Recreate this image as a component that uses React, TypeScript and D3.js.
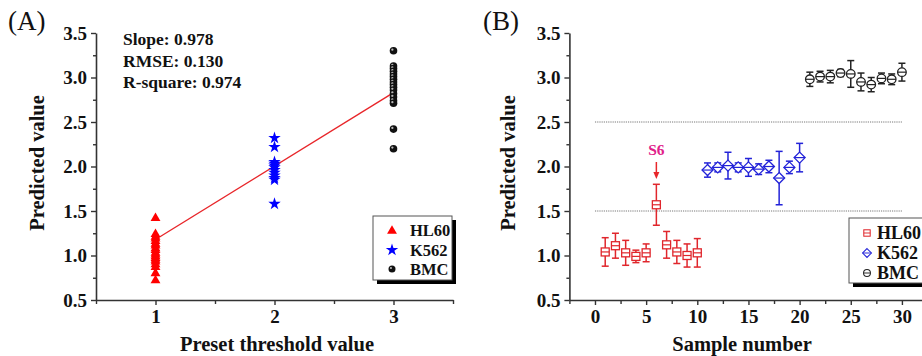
import React, { useEffect, useRef } from 'react';
import * as d3 from 'd3';

// Panel A: predicted value for each preset threshold group
const hl60Scatter = [1.42, 1.24, 1.21, 1.19, 1.16, 1.13, 1.11, 1.08, 1.06, 1.03, 1.01, 0.99, 0.97, 0.95, 0.93, 0.90, 0.87, 0.80, 0.72];
const k562Scatter = [2.32, 2.22, 2.05, 2.03, 2.01, 1.99, 1.96, 1.93, 1.90, 1.87, 1.85, 1.58];
const bmcScatter = [3.30, 3.13, 3.10, 3.07, 3.04, 3.01, 2.98, 2.95, 2.92, 2.89, 2.86, 2.82, 2.78, 2.74, 2.71, 2.42, 2.20];
const fitX = [1, 3];
const fitY = [1.18, 2.83];
const fitStats = ['Slope: 0.978', 'RMSE: 0.130', 'R-square: 0.974'];

// Panel B: per-sample mean and error
const hl60Mean = [1.04, 1.11, 1.03, 0.99, 1.03, 1.57, 1.12, 1.04, 1.00, 1.03];
const hl60Err = [0.16, 0.14, 0.14, 0.07, 0.10, 0.23, 0.15, 0.13, 0.13, 0.16];
const k562Mean = [1.96, 1.99, 2.01, 1.99, 1.99, 1.97, 2.00, 1.87, 1.99, 2.10];
const k562Err = [0.08, 0.05, 0.15, 0.05, 0.10, 0.06, 0.07, 0.30, 0.07, 0.16];
const bmcMean = [2.98, 3.01, 3.01, 3.05, 3.04, 2.95, 2.92, 2.99, 2.98, 3.06];
const bmcErr = [0.08, 0.06, 0.07, 0.04, 0.15, 0.10, 0.08, 0.06, 0.06, 0.10];
const thresholds = [1.5, 2.5];
const legendNames = ['HL60', 'K562', 'BMC'];

const yTicks = [0.5, 1.0, 1.5, 2.0, 2.5, 3.0, 3.5];
const yMinor = [0.75, 1.25, 1.75, 2.25, 2.75, 3.25];
const xTicksA = [1, 2, 3];
const xMinorA = [0.5, 1.5, 2.5, 3.5];
const xTicksB = [0, 5, 10, 15, 20, 25, 30];
const xMinorB = [-2.5, 2.5, 7.5, 12.5, 17.5, 22.5, 27.5, 32.5];

const FONT = '"Liberation Serif", "Times New Roman", serif';
const AXIS = '#333';

const App = () => {
  const svgRef = useRef<SVGSVGElement>(null);

  useEffect(() => {
    const svg = d3.select(svgRef.current);
    svg.selectAll('*').remove();

    const yScaleA = d3.scaleLinear().domain([0.5, 3.5]).range([300, 33]);
    const xScaleA = d3.scaleLinear().domain([0.5, 3.5]).range([96, 453]);
    const yScaleB = d3.scaleLinear().domain([0.5, 3.5]).range([300, 33]);
    const xScaleB = d3.scaleLinear().domain([-2.5, 32.5]).range([569.4, 927.5]);

    const styleAxis = (g, size) => {
      g.select('.domain').attr('stroke', AXIS).attr('stroke-width', 1.6);
      g.selectAll('line').attr('stroke', AXIS).attr('stroke-width', 1.4);
      g.selectAll('text')
        .attr('font-family', FONT)
        .attr('font-weight', 'bold')
        .attr('font-size', size)
        .attr('fill', '#111');
    };

    const drawAxes = (xScale, yScale, xTicks, xMinor, fmtX) => {
      svg.append('g')
        .attr('transform', `translate(${xScale.range()[0]},0)`)
        .call(d3.axisLeft(yScale).tickValues(yMinor).tickSize(3).tickFormat(() => ''))
        .call(g => g.select('.domain').remove())
        .call(g => styleAxis(g, 19));
      svg.append('g')
        .attr('transform', `translate(${xScale.range()[0]},0)`)
        .call(d3.axisLeft(yScale).tickValues(yTicks).tickSize(5).tickSizeOuter(0).tickPadding(4).tickFormat(d3.format('.1f')))
        .call(g => styleAxis(g, 19));
      svg.append('g')
        .attr('transform', `translate(0,${yScale.range()[0]})`)
        .call(d3.axisBottom(xScale).tickValues(xMinor).tickSize(4).tickFormat(() => ''))
        .call(g => g.select('.domain').remove())
        .call(g => styleAxis(g, 19));
      svg.append('g')
        .attr('transform', `translate(0,${yScale.range()[0]})`)
        .call(d3.axisBottom(xScale).tickValues(xTicks).tickSize(5).tickSizeOuter(0).tickPadding(5).tickFormat(fmtX))
        .call(g => styleAxis(g, 19));
    };

    drawAxes(xScaleA, yScaleA, xTicksA, xMinorA, d3.format('d'));
    drawAxes(xScaleB, yScaleB, xTicksB, xMinorB, d3.format('d'));

    // titles and panel letters
    const text = (x, y, str, size, opts: any = {}) =>
      svg.append('text')
        .attr('x', x).attr('y', y)
        .attr('font-family', FONT)
        .attr('font-size', size)
        .attr('font-weight', opts.weight || 'bold')
        .attr('text-anchor', opts.anchor || 'start')
        .attr('fill', opts.fill || '#111')
        .attr('transform', opts.rotate ? `rotate(-90,${x},${y})` : null)
        .text(str);

    text(8, 30, '(A)', 27, { weight: 'normal' });
    text(483, 30, '(B)', 27, { weight: 'normal' });
    text(44, 163, 'Predicted value', 20.5, { anchor: 'middle', rotate: true });
    text(515, 163, 'Predicted value', 20.5, { anchor: 'middle', rotate: true });
    text(277, 351, 'Preset threshold value', 20.5, { anchor: 'middle' });
    text(742, 351, 'Sample number', 20.5, { anchor: 'middle' });
    fitStats.forEach((s, i) => text(123, 45 + i * 21.5, s, 17.5));

    // ---- Panel A ----
    const line = d3.line<number>().x((d, i) => xScaleA(fitX[i])).y(d => yScaleA(d));
    svg.append('path')
      .attr('d', line(fitY))
      .attr('fill', 'none')
      .attr('stroke', '#e8262a')
      .attr('stroke-width', 1.4);

    const tri = d3.symbol().type(d3.symbolTriangle).size(42);
    const star = d3.symbol().type(d3.symbolStar).size(48);

    svg.append('g').selectAll('path')
      .data(hl60Scatter).join('path')
      .attr('d', tri)
      .attr('transform', d => `translate(${xScaleA(1)},${yScaleA(d)})`)
      .attr('fill', '#ff0000');
    svg.append('g').selectAll('path')
      .data(k562Scatter).join('path')
      .attr('d', star)
      .attr('transform', d => `translate(${xScaleA(2)},${yScaleA(d)})`)
      .attr('fill', '#0000ff');
    const ball = (sel, x, y, r) => {
      sel.append('circle').attr('cx', x).attr('cy', y).attr('r', r).attr('fill', '#111');
      sel.append('circle').attr('cx', x - r * 0.3).attr('cy', y - r * 0.3).attr('r', r * 0.3).attr('fill', '#bbb');
    };
    const bmcG = svg.append('g');
    bmcScatter.forEach(v => ball(bmcG, xScaleA(3), yScaleA(v), 3.8));

    // legend A
    const legA = svg.append('g');
    legA.append('rect').attr('x', 377).attr('y', 220).attr('width', 79).attr('height', 64).attr('fill', '#000');
    legA.append('rect').attr('x', 373).attr('y', 216).attr('width', 79).attr('height', 64)
      .attr('fill', '#fff').attr('stroke', '#555').attr('stroke-width', 1);
    legA.append('path').attr('d', tri).attr('transform', 'translate(392,231)').attr('fill', '#ff0000');
    legA.append('path').attr('d', star).attr('transform', 'translate(392,250)').attr('fill', '#0000ff');
    ball(legA, 392, 269, 3.5);
    legendNames.forEach((n, i) => text(410, 236 + i * 19.5, n, 16.5));

    // ---- Panel B ----
    svg.append('g').selectAll('line')
      .data(thresholds).join('line')
      .attr('x1', xScaleB(0)).attr('x2', xScaleB(30))
      .attr('y1', d => yScaleB(d)).attr('y2', d => yScaleB(d))
      .attr('stroke', '#777').attr('stroke-width', 1).attr('stroke-dasharray', '1.2,1');

    const series = [
      { mean: hl60Mean, err: hl60Err, start: 1, color: '#e0262c', shape: 'square' },
      { mean: k562Mean, err: k562Err, start: 11, color: '#2323d8', shape: 'diamond' },
      { mean: bmcMean, err: bmcErr, start: 21, color: '#222', shape: 'circle' },
    ];

    const marker = (g, shape, x, y, color) => {
      if (shape === 'square') {
        g.append('rect').attr('x', x - 4).attr('y', y - 4).attr('width', 8).attr('height', 8)
          .attr('fill', '#fff').attr('stroke', color).attr('stroke-width', 1.3);
        g.append('line').attr('x1', x - 4).attr('x2', x + 4).attr('y1', y).attr('y2', y).attr('stroke', color).attr('stroke-width', 1.2);
      } else if (shape === 'diamond') {
        g.append('path').attr('d', `M${x},${y - 5.5}L${x + 5.5},${y}L${x},${y + 5.5}L${x - 5.5},${y}Z`)
          .attr('fill', '#fff').attr('stroke', color).attr('stroke-width', 1.3);
        g.append('line').attr('x1', x - 5.5).attr('x2', x + 5.5).attr('y1', y).attr('y2', y).attr('stroke', color).attr('stroke-width', 1.2);
      } else {
        g.append('circle').attr('cx', x).attr('cy', y).attr('r', 4.3)
          .attr('fill', '#fff').attr('stroke', color).attr('stroke-width', 1.3);
        g.append('line').attr('x1', x - 4.3).attr('x2', x + 4.3).attr('y1', y).attr('y2', y).attr('stroke', color).attr('stroke-width', 1.2);
      }
    };

    series.forEach(s => {
      const g = svg.append('g');
      s.mean.forEach((m, i) => {
        const x = xScaleB(s.start + i);
        const yTop = yScaleB(m + s.err[i]);
        const yBot = yScaleB(m - s.err[i]);
        g.append('line').attr('x1', x).attr('x2', x).attr('y1', yTop).attr('y2', yBot)
          .attr('stroke', s.color).attr('stroke-width', 1.5);
        [yTop, yBot].forEach(yy =>
          g.append('line').attr('x1', x - 3.5).attr('x2', x + 3.5).attr('y1', yy).attr('y2', yy)
            .attr('stroke', s.color).attr('stroke-width', 1.5));
        marker(g, s.shape, x, yScaleB(m), s.color);
      });
    });

    // S6 callout
    const s6x = xScaleB(6);
    text(s6x, 155, 'S6', 15.5, { anchor: 'middle', fill: '#e0218a' });
    svg.append('line').attr('x1', s6x).attr('x2', s6x).attr('y1', 162).attr('y2', 174)
      .attr('stroke', '#e8262a').attr('stroke-width', 1.5);
    svg.append('path').attr('d', `M${s6x - 3},${172}L${s6x + 3},${172}L${s6x},${179}Z`).attr('fill', '#e8262a');

    // legend B
    const legB = svg.append('g');
    legB.append('rect').attr('x', 853).attr('y', 222).attr('width', 90).attr('height', 65).attr('fill', '#000');
    legB.append('rect').attr('x', 849).attr('y', 218).attr('width', 90).attr('height', 65)
      .attr('fill', '#fff').attr('stroke', '#555').attr('stroke-width', 1);
    series.forEach((s, i) => {
      const y = 233 + i * 20;
      const lg = legB.append('g').attr('transform', `translate(867,${y}) scale(0.8) translate(-867,${-y})`);
      marker(lg, s.shape, 867, y, s.color);
      text(877, y + 6, legendNames[i], 18);
    });
  }, []);

  return (
    <svg
      ref={svgRef}
      width={922}
      height={356}
      style={{ position: 'absolute', left: 0, top: 0, background: '#fff' }}
    />
  );
};

export default App;
